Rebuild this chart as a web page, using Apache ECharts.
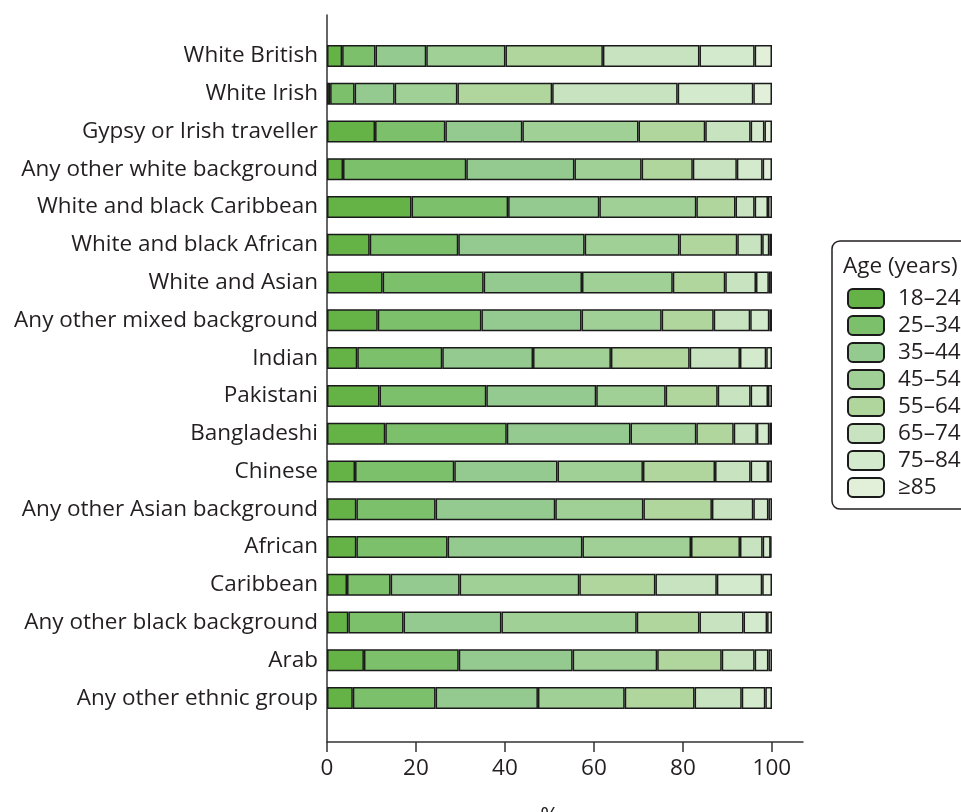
<!DOCTYPE html>
<html>
<head>
<meta charset="utf-8">
<script src="https://cdn.jsdelivr.net/npm/echarts@6/dist/echarts.min.js"></script>
<style>html,body{margin:0;padding:0;background:#fff}#c{width:961px;height:812px}</style>
</head>
<body>
<div id="c"></div>
<script>
const categories = ["White British","White Irish","Gypsy or Irish traveller","Any other white background","White and black Caribbean","White and black African","White and Asian","Any other mixed background","Indian","Pakistani","Bangladeshi","Chinese","Any other Asian background","African","Caribbean","Any other black background","Arab","Any other ethnic group"];
const ageGroups = ["18–24","25–34","35–44","45–54","55–64","65–74","75–84","≥85"];
const age18_24 = [3.4,0.7,10.8,3.6,19.0,9.6,12.5,11.4,6.8,11.8,13.1,6.3,6.6,6.6,4.5,4.8,8.3,5.8];
const age25_34 = [7.5,5.5,15.8,27.7,21.7,19.9,22.7,23.3,19.1,24.0,27.3,22.3,17.8,20.5,9.8,12.4,21.3,18.6];
const age35_44 = [11.4,9.0,17.3,24.3,20.5,28.4,22.1,22.5,20.4,24.7,27.8,23.2,26.9,30.3,15.5,22.0,25.6,23.0];
const age45_54 = [17.8,14.1,26.1,15.1,21.8,21.3,20.4,18.0,17.5,15.6,14.8,19.2,19.8,24.4,26.9,30.4,19.0,19.5];
const age55_64 = [21.9,21.3,15.0,11.5,8.8,13.0,11.8,11.7,17.7,11.7,8.4,16.2,15.4,11.0,17.1,14.1,14.5,15.7];
const age65_74 = [21.7,28.2,10.2,9.9,4.3,5.6,6.9,8.2,11.3,7.4,5.2,8.0,9.3,5.1,13.8,9.9,7.4,10.6];
const age75_84 = [12.4,17.0,3.1,5.8,3.0,1.6,2.9,4.3,5.9,3.9,2.8,3.9,3.4,1.8,10.2,5.3,3.1,5.3];
const age85plus = [3.9,4.2,1.7,2.1,0.9,0.6,0.7,0.6,1.3,0.9,0.6,0.9,0.8,0.1,2.2,1.1,0.8,1.5];
const xTicks = [0,20,40,60,80,100];

const seriesData = [age18_24,age25_34,age35_44,age45_54,age55_64,age65_74,age75_84,age85plus];
const colors = ['#65b347','#7dc06c','#94ca90','#a1d097','#b0d69e','#c8e3c0','#d4eacd','#e2f0da'];
const FONT = 'Open Sans';
const FS = 22.5;
const TXT = '#231f20';

const chart = echarts.init(document.getElementById('c'), null, {renderer:'canvas'});
chart.setOption({
  animation: false,
  textStyle: {fontFamily: FONT},
  title: {
    text: 'Age (years)', left: 843, top: 255, padding: 0,
    textStyle: {fontFamily: FONT, fontSize: FS, fontWeight: 'normal', color: TXT}
  },
  legend: {
    orient: 'vertical', left: 832, top: 241,
    padding: [46, 90, 10, 15],
    borderColor: '#231f20', borderWidth: 1.5, borderRadius: 8,
    itemWidth: 36, itemHeight: 19, itemGap: 4,
    textStyle: {fontFamily: FONT, fontSize: FS, lineHeight: 19, color: TXT, padding: [0,0,0,9]},
    data: ageGroups
  },
  grid: [
    {left: 327, width: 445, top: 37, height: 680, containLabel: false, outerBoundsMode: 'none'},
    {left: 327, width: 476, top: 15, height: 727, containLabel: false, outerBoundsMode: 'none'}
  ],
  xAxis: [
    {gridIndex: 0, type: 'value', min: 0, max: 100,
     axisLine: {show: false}, axisTick: {show: false}, axisLabel: {show: false}, splitLine: {show: false},
     name: '%', nameLocation: 'middle', nameGap: 88, nameMoveOverlap: false,
     nameTextStyle: {fontFamily: FONT, fontSize: FS, color: TXT}},
    {gridIndex: 1, type: 'value', min: 0, max: 107,
     axisLine: {show: true, lineStyle: {color: '#333', width: 1.5}},
     axisTick: {show: true, length: 10, customValues: xTicks, lineStyle: {color: '#333', width: 1.5}},
     axisLabel: {customValues: xTicks, fontFamily: FONT, fontSize: FS, color: TXT, margin: 15},
     splitLine: {show: false}}
  ],
  yAxis: [
    {gridIndex: 0, type: 'category', data: categories, inverse: true,
     axisLine: {show: false}, axisTick: {show: false},
     axisLabel: {fontFamily: FONT, fontSize: FS, color: TXT, margin: 9}},
    {gridIndex: 1, type: 'value', min: 0, max: 1,
     axisLine: {show: true, lineStyle: {color: '#333', width: 1.5}},
     axisTick: {show: false}, axisLabel: {show: false}, splitLine: {show: false}}
  ],
  series: ageGroups.map((g, i) => ({
    name: g, type: 'bar', stack: 'total', xAxisIndex: 0, yAxisIndex: 0,
    barWidth: 22, data: seriesData[i],
    itemStyle: {color: colors[i], borderColor: '#1a1a1a', borderWidth: 1.5}
  }))
});
</script>
</body>
</html>
